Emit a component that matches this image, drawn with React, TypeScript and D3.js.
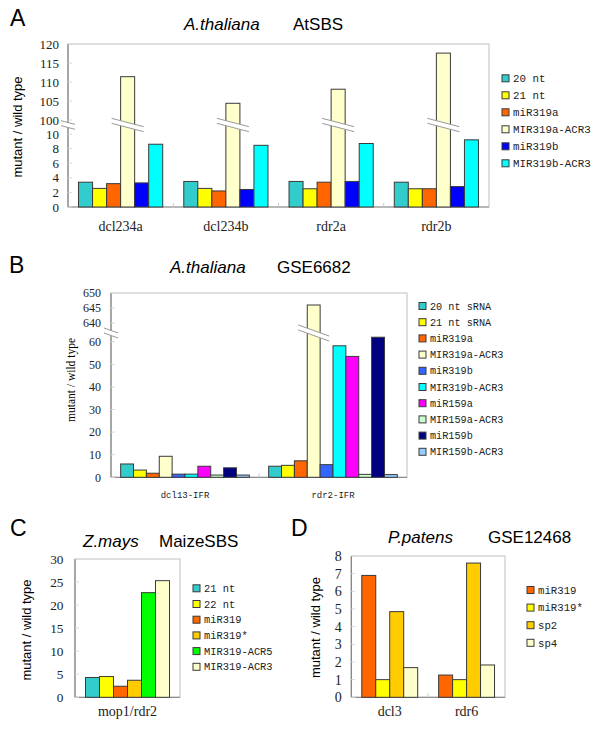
import React from "react";
import * as d3 from "d3";

// ---------- Panel A data ----------
const aCategories = ["dcl234a", "dcl234b", "rdr2a", "rdr2b"];
const aSeries = ["20 nt", "21 nt", "miR319a", "MIR319a-ACR3", "miR319b", "MIR319b-ACR3"];
const aValues = [
  [3.4, 2.55, 3.2, 111.4, 3.3, 8.6],
  [3.5, 2.55, 2.2, 104.4, 2.4, 8.45],
  [3.5, 2.5, 3.4, 108.1, 3.5, 8.7],
  [3.4, 2.5, 2.5, 117.6, 2.8, 9.2],
];
const aTicks = [0, 2, 4, 6, 8, 10, 100, 105, 110, 115, 120];

// ---------- Panel B data ----------
const bCategories = ["dcl13-IFR", "rdr2-IFR"];
const bSeries = [
  "20 nt sRNA", "21 nt sRNA", "miR319a", "MIR319a-ACR3", "miR319b",
  "MIR319b-ACR3", "miR159a", "MIR159a-ACR3", "miR159b", "MIR159b-ACR3",
];
const bValues = [
  [5.9, 3.2, 1.8, 9.3, 1.4, 1.4, 4.9, 1.0, 4.2, 1.0],
  [4.9, 5.3, 7.3, 646, 5.6, 58.2, 53.5, 1.3, 62, 1.2],
];
const bTicks = [0, 10, 20, 30, 40, 50, 60, 640, 645, 650];

// ---------- Panel C data ----------
const cCategories = ["mop1/rdr2"];
const cSeries = ["21 nt", "22 nt", "miR319", "miR319*", "MIR319-ACR5", "MIR319-ACR3"];
const cValues = [[4.3, 4.5, 2.4, 3.7, 22.7, 25.3]];
const cTicks = [0, 5, 10, 15, 20, 25, 30];

// ---------- Panel D data ----------
const dCategories = ["dcl3", "rdr6"];
const dSeries = ["miR319", "miR319*", "sp2", "sp4"];
const dValues = [
  [6.9, 1.0, 4.85, 1.68],
  [1.26, 1.0, 7.6, 1.83],
];
const dTicks = [0, 1, 2, 3, 4, 5, 6, 7, 8];

// palettes
const aColors = ["#33CCCC", "#FFFF00", "#FF6600", "#FFFFCC", "#0000FF", "#00FFFF"];
const bColors = ["#33CCCC", "#FFFF00", "#FF6600", "#FFFFCC", "#3366FF", "#00FFFF", "#FF00FF", "#CCFFCC", "#000080", "#99CCFF"];
const cColors = ["#33CCCC", "#FFFF00", "#FF6600", "#FFCC00", "#00FF00", "#FFFFCC"];
const dColors = ["#FF6600", "#FFFF00", "#FFCC00", "#FFFFCC"];

const SANS = "'Liberation Sans', Arial, sans-serif";
const SERIF = "'Liberation Serif', 'Times New Roman', serif";
const MONO = "'Liberation Mono', 'DejaVu Sans Mono', monospace";

type BreakCfg = { y: number; slope: number; thick: number; threshold: number };

type PanelProps = {
  cats: string[];
  series: string[];
  values: number[][];
  colors: string[];
  ticks: number[];
  yDomain: number[];
  yRange: number[];
  left: number;
  right: number;
  top: number;
  tickSize: number;
  tickGap: number;
  catFont: string;
  catSize: number;
  catY: number;
  brk?: BreakCfg;
  legendX: number;
  legendY: number;
  legendStep: number;
  legendSize: number;
  legendBox: number;
  ylabel: { x: number; y: number; font: string; size: number };
  title: { letter: string; lx: number; ly: number; species: string; sx: number; dataset: string; dx: number; ty: number };
};

function breakBand(cx: number, hw: number, b: BreakCfg, key: string) {
  const t = b.thick / 2;
  const s = b.slope;
  const pts = [
    [cx - hw, b.y - t - s * hw],
    [cx + hw, b.y - t + s * hw],
    [cx + hw, b.y + t + s * hw],
    [cx - hw, b.y + t - s * hw],
  ];
  return (
    <g key={key}>
      <polygon points={pts.map((p) => p.join(",")).join(" ")} fill="#fff" />
      <line x1={pts[0][0]} y1={pts[0][1]} x2={pts[1][0]} y2={pts[1][1]} stroke="#999" strokeWidth={1} />
      <line x1={pts[3][0]} y1={pts[3][1]} x2={pts[2][0]} y2={pts[2][1]} stroke="#999" strokeWidth={1} />
    </g>
  );
}

function Panel(p: PanelProps) {
  const y = d3.scaleLinear().domain(p.yDomain).range(p.yRange);
  const bottom = y(0);
  const x0 = d3.scaleBand<string>().domain(p.cats).range([p.left, p.right]).paddingInner(0).paddingOuter(0);
  const x1 = d3.scaleBand<string>().domain(p.series).range([0, x0.bandwidth()]).paddingInner(0).paddingOuter(0.75);
  const bw = x1.bandwidth();
  return (
    <g>
      {/* title */}
      <text x={p.title.lx} y={p.title.ly} fontFamily={SANS} fontSize={23} fill="#000">{p.title.letter}</text>
      <text x={p.title.sx} y={p.title.ty} fontFamily={SANS} fontSize={17} fontStyle="italic" fill="#000">{p.title.species}</text>
      <text x={p.title.dx} y={p.title.ty} fontFamily={SANS} fontSize={17} fill="#000">{p.title.dataset}</text>
      {/* frame */}
      <rect x={p.left} y={p.top} width={p.right - p.left} height={bottom - p.top} fill="#fff" stroke="#c0c0c0" strokeWidth={1} />
      <line x1={p.left} x2={p.left} y1={p.top} y2={bottom} stroke="#808080" strokeWidth={1.2} />
      <line x1={p.left} x2={p.right} y1={bottom} y2={bottom} stroke="#909090" strokeWidth={1.2} />
      {/* y ticks */}
      {p.ticks.map((t) => (
        <g key={"t" + t}>
          <line x1={p.left} x2={p.left + 4} y1={y(t)} y2={y(t)} stroke="#d8d8d8" />
          <text x={p.left - p.tickGap} y={y(t)} dy="0.35em" textAnchor="end" fontFamily={SERIF} fontSize={p.tickSize} fill="#222">{t}</text>
        </g>
      ))}
      {/* category separators */}
      {p.cats.slice(1).map((c) => (
        <line key={"s" + c} x1={x0(c)!} x2={x0(c)!} y1={bottom} y2={bottom - 4} stroke="#c8c8c8" />
      ))}
      {/* bars */}
      {p.cats.map((c, ci) => (
        <g key={c}>
          {p.series.map((s, si) => {
            const v = p.values[ci][si];
            const bx = x0(c)! + x1(s)!;
            return (
              <rect key={s} x={bx} y={y(v)} width={bw} height={bottom - y(v)} fill={p.colors[si]} stroke="#3a3a3a" strokeWidth={1} />
            );
          })}
        </g>
      ))}
      {/* breaks */}
      {p.brk && breakBand(p.left, 7, p.brk, "axisbrk")}
      {p.brk &&
        p.cats.map((c, ci) =>
          p.series.map((s, si) =>
            p.values[ci][si] > p.brk!.threshold
              ? breakBand(x0(c)! + x1(s)! + bw / 2, bw / 2 + 9, p.brk!, "b" + ci + si)
              : null
          )
        )}
      {/* category labels */}
      {p.cats.map((c) => (
        <text key={"c" + c} x={x0(c)! + x0.bandwidth() / 2} y={p.catY} textAnchor="middle" fontFamily={p.catFont} fontSize={p.catSize} fill="#222">{c}</text>
      ))}
      {/* y label */}
      <text transform={`translate(${p.ylabel.x},${p.ylabel.y}) rotate(-90)`} textAnchor="middle" fontFamily={p.ylabel.font} fontSize={p.ylabel.size} fill="#000">mutant / wild type</text>
      {/* legend */}
      {p.series.map((s, i) => {
        const cy = p.legendY + i * p.legendStep;
        return (
          <g key={"l" + s}>
            <rect x={p.legendX} y={cy - p.legendBox / 2} width={p.legendBox} height={p.legendBox} fill={p.colors[i]} stroke="#3a3a3a" strokeWidth={1} />
            <text x={p.legendX + p.legendBox + 4} y={cy} dy="0.35em" fontFamily={MONO} fontSize={p.legendSize} fill="#222">{s}</text>
          </g>
        );
      })}
    </g>
  );
}

export default function App() {
  return (
    <svg width={600} height={729} style={{ position: "absolute", left: 0, top: 0, background: "#fff" }}>
      <rect width={600} height={729} fill="#fff" />
      <Panel
        cats={aCategories} series={aSeries} values={aValues} colors={aColors} ticks={aTicks}
        yDomain={[0, 10, 100, 120]} yRange={[207, 134, 120, 44]}
        left={68} right={489} top={44}
        tickSize={13} tickGap={9}
        catFont={SERIF} catSize={14} catY={231}
        brk={{ y: 125, slope: 0.26, thick: 5, threshold: 10 }}
        legendX={502} legendY={78.3} legendStep={17} legendSize={10.8} legendBox={7}
        ylabel={{ x: 21.5, y: 127, font: SANS, size: 13 }}
        title={{ letter: "A", lx: 10, ly: 26, species: "A.thaliana", sx: 184, dataset: "AtSBS", dx: 293, ty: 30 }}
      />
      <Panel
        cats={bCategories} series={bSeries} values={bValues} colors={bColors} ticks={bTicks}
        yDomain={[0, 64, 638, 650]} yRange={[477.3, 332.7, 329, 293]}
        left={111} right={407} top={293}
        tickSize={12} tickGap={10}
        catFont={MONO} catSize={9} catY={498}
        brk={{ y: 333, slope: 0.36, thick: 5, threshold: 64 }}
        legendX={419} legendY={306} legendStep={16.2} legendSize={10.2} legendBox={7}
        ylabel={{ x: 74.5, y: 380, font: SERIF, size: 11.5 }}
        title={{ letter: "B", lx: 9, ly: 273, species: "A.thaliana", sx: 170, dataset: "GSE6682", dx: 277, ty: 273 }}
      />
      <Panel
        cats={cCategories} series={cSeries} values={cValues} colors={cColors} ticks={cTicks}
        yDomain={[0, 30]} yRange={[697.3, 559]}
        left={75} right={180} top={559}
        tickSize={13.3} tickGap={11.5}
        catFont={SERIF} catSize={14} catY={716}
        legendX={193} legendY={588.3} legendStep={15.7} legendSize={10.4} legendBox={7}
        ylabel={{ x: 31, y: 630, font: SANS, size: 13 }}
        title={{ letter: "C", lx: 10, ly: 536, species: "Z.mays", sx: 83, dataset: "MaizeSBS", dx: 159, ty: 547 }}
      />
      <Panel
        cats={dCategories} series={dSeries} values={dValues} colors={dColors} ticks={dTicks}
        yDomain={[0, 8]} yRange={[697.3, 556]}
        left={351.3} right={505} top={556}
        tickSize={14} tickGap={9.5}
        catFont={SERIF} catSize={14} catY={716}
        legendX={527} legendY={590} legendStep={17.6} legendSize={10.7} legendBox={7}
        ylabel={{ x: 320, y: 627.5, font: SANS, size: 13 }}
        title={{ letter: "D", lx: 291, ly: 536, species: "P.patens", sx: 388, dataset: "GSE12468", dx: 488, ty: 543 }}
      />
    </svg>
  );
}
